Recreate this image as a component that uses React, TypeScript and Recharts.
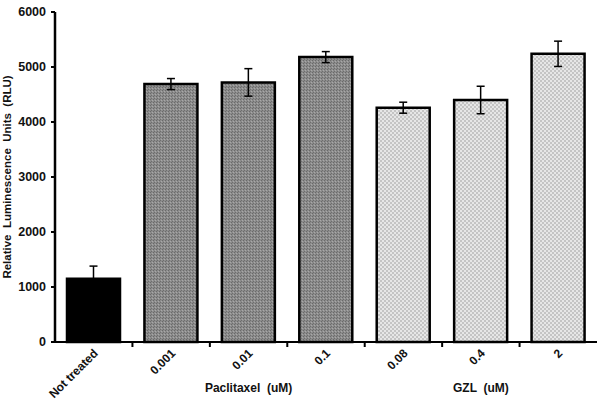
import React from "react";
import { BarChart, Bar, XAxis, YAxis, ErrorBar, Cell } from "recharts";

const categories = ["Not treated", "0.001", "0.01", "0.1", "0.08", "0.4", "2"];
const values = [1150, 4690, 4720, 5180, 4260, 4400, 5240];
const errors = [230, 100, 250, 100, 100, 250, 230];
const groups = ["control", "Paclitaxel", "Paclitaxel", "Paclitaxel", "GZL", "GZL", "GZL"];
const groupLabels: Record<number, string> = { 2: "Paclitaxel  (uM)", 5: "GZL  (uM)" };
const yTicks = [0, 1000, 2000, 3000, 4000, 5000, 6000];

const data = categories.map((c, i) => ({ name: c, value: values[i], err: errors[i], group: groups[i] }));

const W = 600;
const H = 406;
const M = { top: 12, right: 3, left: 0, bottom: 0 };
const Y_W = 55;
const X_H = 64;
const bandW = (W - M.left - M.right - Y_W) / categories.length;

const fillFor = (g: string) =>
  g === "control" ? "#000" : g === "Paclitaxel" ? "url(#darkPat)" : "url(#lightPat)";

const font = "Arial, 'Liberation Sans', sans-serif";

const XTick = (props: any) => {
  const { x, y, payload } = props;
  const i = payload.index;
  const gl = groupLabels[i];
  return (
    <g>
      {i > 0 && (
        <line x1={x - bandW / 2} x2={x - bandW / 2} y1={y} y2={y + 5} stroke="#000" strokeWidth={2} />
      )}
      <text
        x={x + 5}
        y={y + 12}
        transform={`rotate(-45, ${x + 5}, ${y + 12})`}
        textAnchor="end"
        fontFamily={font}
        fontWeight="bold"
        fontSize={12}
        fill="#111"
      >
        {payload.value}
      </text>
      {gl && (
        <text
          x={x}
          y={y + 50}
          textAnchor="middle"
          fontFamily={font}
          fontWeight="bold"
          fontSize={12}
          fill="#111"
          style={{ whiteSpace: "pre" }}
        >
          {gl}
        </text>
      )}
    </g>
  );
};

const YLabel = (props: any) => {
  const vb = props.viewBox || {};
  const cx = 7;
  const cy = vb.y + vb.height / 2;
  return (
    <text
      x={cx}
      y={cy}
      transform={`rotate(-90, ${cx}, ${cy})`}
      textAnchor="middle"
      dominantBaseline="central"
      fontFamily={font}
      fontWeight="bold"
      fontSize={11.5}
      fill="#111"
      style={{ whiteSpace: "pre" }}
    >
      Relative  Luminescence  Units  (RLU)
    </text>
  );
};

export default function App() {
  return (
    <div style={{ position: "absolute", left: 0, top: 0, width: W, height: H, background: "#fff" }}>
      <BarChart width={W} height={H} data={data} margin={M} barSize={53}>
        <defs>
          <pattern id="darkPat" width="3" height="3" patternUnits="userSpaceOnUse">
            <rect width="3" height="3" fill="#8c8c8c" />
            <rect width="1" height="1" fill="#6a6a6a" />
            <rect x="2" y="1" width="1" height="1" fill="#a8a8a8" />
            <rect x="1" y="2" width="1" height="1" fill="#6e6e6e" />
          </pattern>
          <pattern id="lightPat" width="4" height="4" patternUnits="userSpaceOnUse">
            <rect width="4" height="4" fill="#e6e6e6" />
            <rect width="2" height="2" fill="#c4c4c4" />
            <rect x="2" y="2" width="2" height="2" fill="#c4c4c4" />
          </pattern>
        </defs>
        <XAxis
          dataKey="name"
          interval={0}
          height={X_H}
          tickSize={0}
          tickMargin={0}
          tickLine={false}
          axisLine={{ stroke: "#000", strokeWidth: 2 }}
          tick={<XTick />}
        />
        <YAxis
          width={Y_W}
          domain={[0, 6000]}
          ticks={yTicks}
          interval={0}
          tickSize={4}
          tickMargin={5}
          axisLine={{ stroke: "#000", strokeWidth: 2.5 }}
          tickLine={{ stroke: "#000", strokeWidth: 2 }}
          tick={{ fontFamily: font, fontWeight: "bold", fontSize: 12.5, fill: "#111" }}
          label={<YLabel />}
        />
        <Bar dataKey="value" stroke="#000" strokeWidth={2.5} isAnimationActive={false}>
          {data.map((d, i) => (
            <Cell key={i} fill={fillFor(d.group)} />
          ))}
          <ErrorBar dataKey="err" direction="y" width={4} stroke="#000" strokeWidth={1.5} />
        </Bar>
      </BarChart>
    </div>
  );
}
